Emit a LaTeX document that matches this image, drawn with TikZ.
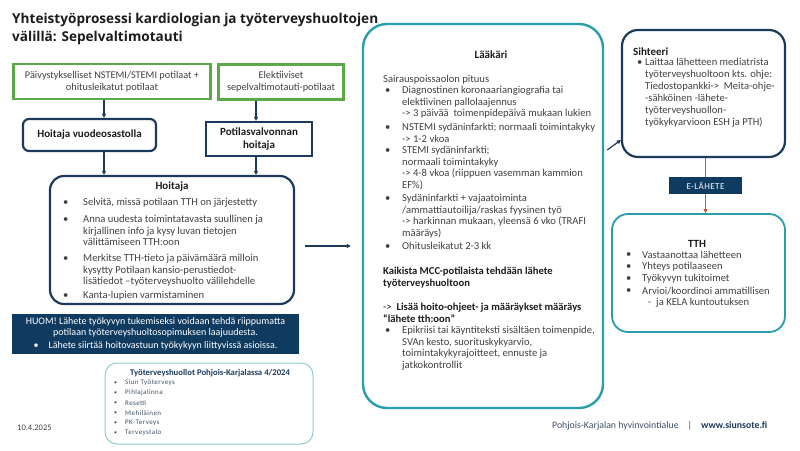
\documentclass[tikz,border=0pt]{standalone}
\usepackage{fontspec}
\setmainfont{Carlito}
\newfontfamily\titlefont{Open Sans}
\usepackage{tikz}
\usetikzlibrary{arrows.meta,positioning}
\definecolor{navy}{HTML}{1B3A5C}
\definecolor{darkfill}{HTML}{0F3B61}
\definecolor{tealline}{HTML}{2A9DAB}
\definecolor{lightteal}{HTML}{8ECBD1}
\definecolor{boxgreen}{HTML}{5BAA47}
\definecolor{redline}{HTML}{C8572B}
\definecolor{graytext}{HTML}{404040}
\definecolor{darktext}{HTML}{1C1C1C}
\definecolor{listtext}{HTML}{3C5068}

\begin{document}
\begin{tikzpicture}[x=1pt,y=-1pt,font=\fontsize{10.6}{11.6}\selectfont,
  txt/.style={inner sep=0pt,text=graytext,align=left,anchor=north west},
  head/.style={inner sep=0pt,text=darktext,font=\fontsize{11}{12}\selectfont\bfseries},
  greenbox/.style={draw=boxgreen,line width=2.4pt,text=graytext,align=center,inner sep=0pt,
    font=\fontsize{10.3}{11.8}\selectfont},
  navybox/.style={draw=navy,line width=2.2pt,align=center,inner sep=0pt,text=darktext,
    font=\fontsize{11}{12.5}\selectfont\bfseries},
  tealbox/.style={draw=tealline,line width=2.4pt},
  arr/.style={-{Triangle[length=4pt,width=4pt]},navy,line width=1.2pt}]
  \useasboundingbox (0,0) rectangle (800,450);
  % otsikko
  \node[anchor=north west,inner sep=0pt,align=left,text=darktext,
    font=\titlefont\bfseries\fontsize{13.6}{18}\selectfont] (title) at (12,13)
    {Yhteistyöprosessi kardiologian ja työterveyshuoltojen\\välillä: Sepelvaltimotauti};
  % vasen puoli
  \node[greenbox,minimum width=197pt,minimum height=35pt] (akuutit) at (112,81.5)
    {Päivystykselliset NSTEMI/STEMI potilaat +\\ohitusleikatut potilaat};
  \node[greenbox,minimum width=125pt,minimum height=35pt] (elektiiviset) at (281,82)
    {Elektiiviset\\sepelvaltimotauti-potilaat};
  \node[navybox,rounded corners=6pt,minimum width=133pt,minimum height=32pt] (osasto) at (89.5,135)
    {Hoitaja vuodeosastolla};
  \node[navybox,minimum width=106pt,minimum height=34pt] (valvonta) at (259,139)
    {Potilasvalvonnan\\hoitaja};
  \node[navybox,rounded corners=14pt,minimum width=244pt,minimum height=128pt] (hoitaja) at (172,240) {};
  \node[head,anchor=base] (hoitajaT) at (172,189) {Hoitaja};
  \foreach \n/\y/\s in {1/203/{Selvitä, missä potilaan TTH on järjestetty},
    2/220/{Anna uudesta toimintatavasta suullinen ja\\kirjallinen info ja kysy luvan tietojen\\välittämiseen TTH:oon},
    3/259/{Merkitse TTH-tieto ja päivämäärä milloin\\kysytty Potilaan kansio-perustiedot-\\lisätiedot –työterveyshuolto välilehdelle},
    4/296/{Kanta-lupien varmistaminen}}{
    \node[txt,anchor=west] (hb\n) at (63,\y) {\textbullet};
    \node[txt] (ht\n) at (83,\y-5) {\s};}
  \draw[arr] ([xshift=-8pt]akuutit.south) -- ([xshift=14.5pt]osasto.north);
  \draw[arr] ([xshift=14.5pt]osasto.south) -- ([xshift=-68pt]hoitaja.north);
  \draw[arr] ([xshift=-25pt]elektiiviset.south) -- ([xshift=-3pt]valvonta.north);
  \draw[arr] ([xshift=-3pt]valvonta.south) -- ([xshift=84pt]hoitaja.north);
  \node[fill=darkfill,text=white,minimum width=287pt,minimum height=40pt,inner sep=0pt,align=center,
    font=\fontsize{10}{11.2}\selectfont] (huom) at (155.5,334)
    {HUOM! Lähete työkyvyn tukemiseksi voidaan tehdä riippumatta\\potilaan työterveyshuoltosopimuksen laajuudesta.\\[1.5pt]\textbullet\quad Lähete siirtää hoitovastuun työkykyyn liittyvissä asioissa.};
  \node[draw=lightteal,line width=1pt,rounded corners=12pt,minimum width=208pt,minimum height=81pt] (tthlista) at (209,403.5) {};
  \node[inner sep=0pt,text=navy,font=\fontsize{8.7}{10}\selectfont\bfseries] (tthlistaT) at (210,373)
    {Työterveyshuollot Pohjois-Karjalassa 4/2024};
  \foreach \n/\y/\s in {1/383/Siun Työterveys,2/393/Pihlajalinna,3/403/Resetti,4/413/Mehiläinen,5/423/PK-Terveys,6/433/Terveystalo}{
    \node[txt,anchor=west,text=listtext,font=\fontsize{6}{7}\selectfont] (tb\n) at (114,\y) {\textbullet};
    \node[txt,anchor=west,text=listtext,font=\fontsize{7}{8}\selectfont\addfontfeatures{LetterSpace=6}] (tt\n) at (125,\y) {\s};}
  \node[txt,anchor=west,font=\fontsize{8.5}{10}\selectfont] (pvm) at (17,428) {10.4.2025};
  % lääkäri
  \node[tealbox,rounded corners=24pt,minimum width=240pt,minimum height=384pt] (laakari) at (483,216) {};
  \node[head,anchor=base] (laakariT) at (491,58.5) {Lääkäri};
  \node[txt,anchor=west] (sairaus) at (383,80) {Sairauspoissaolon pituus};
  \foreach \n/\y/\s in {1/91/{Diagnostinen koronaariangiografia tai\\elektiivinen pallolaajennus\\-> 3 päivää\ \ toimenpidepäivä mukaan lukien},
    2/128/{NSTEMI sydäninfarkti; normaali toimintakyky\\-> 1-2 vkoa},
    3/151/{STEMI sydäninfarkti;\\normaali toimintakyky\\-> 4-8 vkoa (riippuen vasemman kammion\\EF\%)},
    4/199/{Sydäninfarkti + vajaatoiminta\\/ammattiautoilija/raskas fyysinen työ\\-> harkinnan mukaan, yleensä 6 vko (TRAFI\\määräys)},
    5/247/{Ohitusleikatut 2-3 kk},
    6/331/{Epikriisi tai käyntiteksti sisältäen toimenpide,\\SVAn kesto, suorituskykyarvio,\\toimintakykyrajoitteet, ennuste ja\\jatkokontrollit}}{
    \node[txt,anchor=west] (lb\n) at (385,\y) {\textbullet};
    \node[txt] (lt\n) at (402,\y-5) {\s};}
  \node[txt,text=darktext,font=\fontsize{10.6}{11.4}\selectfont\bfseries] (kaikista) at (383,267)
    {Kaikista MCC-potilaista tehdään lähete\\työterveyshuoltoon};
  \node[txt,text=darktext] (lisaa) at (383,303)
    {->\ \ \textbf{Lisää hoito-ohjeet- ja määräykset määräys}\\\textbf{“lähete tth:oon”}};
  \draw[arr] ([xshift=10pt,yshift=-6pt]hoitaja.east) -- ([xshift=-11pt,yshift=-30pt]laakari.west);
  % sihteeri ja tth
  \node[navybox,rounded corners=16pt,minimum width=163pt,minimum height=127pt] (sihteeri) at (703.5,93.5) {};
  \node[head,anchor=base west] (sihteeriT) at (633,55.5) {Sihteeri};
  \node[txt,anchor=west] (sb) at (637,63) {\textbullet};
  \node[txt,font=\fontsize{10.6}{12}\selectfont] (st) at (645,58)
    {Laittaa lähetteen mediatrista\\työterveyshuoltoon kts. ohje:\\Tiedostopankki->\ \ Meita-ohje-\\-sähköinen -lähete-\\työterveyshuollon-\\työkykyarvioon ESH ja PTH)};
  \draw[arr] ([xshift=3pt,yshift=66pt]laakari.east) -- ([yshift=-46.5pt]sihteeri.west);
  \node[fill=darkfill,text=white,minimum width=73pt,minimum height=17pt,inner sep=0pt,
    font=\fontsize{9}{10}\selectfont\addfontfeatures{LetterSpace=5}] (elahete) at (705.5,185.5) {E-LÄHETE};
  \node[draw=tealline,line width=1.8pt,rounded corners=16pt,minimum width=173pt,minimum height=118pt] (tth) at (698.5,273) {};
  \draw[redline,line width=1.4pt] (elahete.north |- sihteeri.south) -- (elahete.north);
  \draw[redline,line width=1.4pt,-{Triangle[length=4pt,width=4pt]}] (elahete.south) -- (elahete.south |- tth.north);
  \node[head,anchor=base] (tthT) at (697,247) {TTH};
  \foreach \n/\y/\s in {1/255/Vastaanottaa lähetteen,2/267/Yhteys potilaaseen,3/279/Työkyvyn tukitoimet,4/291/{Arvioi/koordinoi ammatillisen}}{
    \node[txt,anchor=west] (kb\n) at (626,\y) {\textbullet};
    \node[txt,anchor=west] (kt\n) at (642,\y) {\s};}
  \node[txt,anchor=west] (kela) at (648,303) {-\ \ ja KELA kuntoutuksen};
  % alatunniste
  \node[txt,anchor=west,text=listtext,font=\fontsize{9.8}{11}\selectfont] (alue) at (552,426)
    {Pohjois-Karjalan hyvinvointialue\hspace{9pt}|\hspace{9pt}\textcolor{navy}{\bfseries www.siunsote.fi}};
\end{tikzpicture}
\end{document}
